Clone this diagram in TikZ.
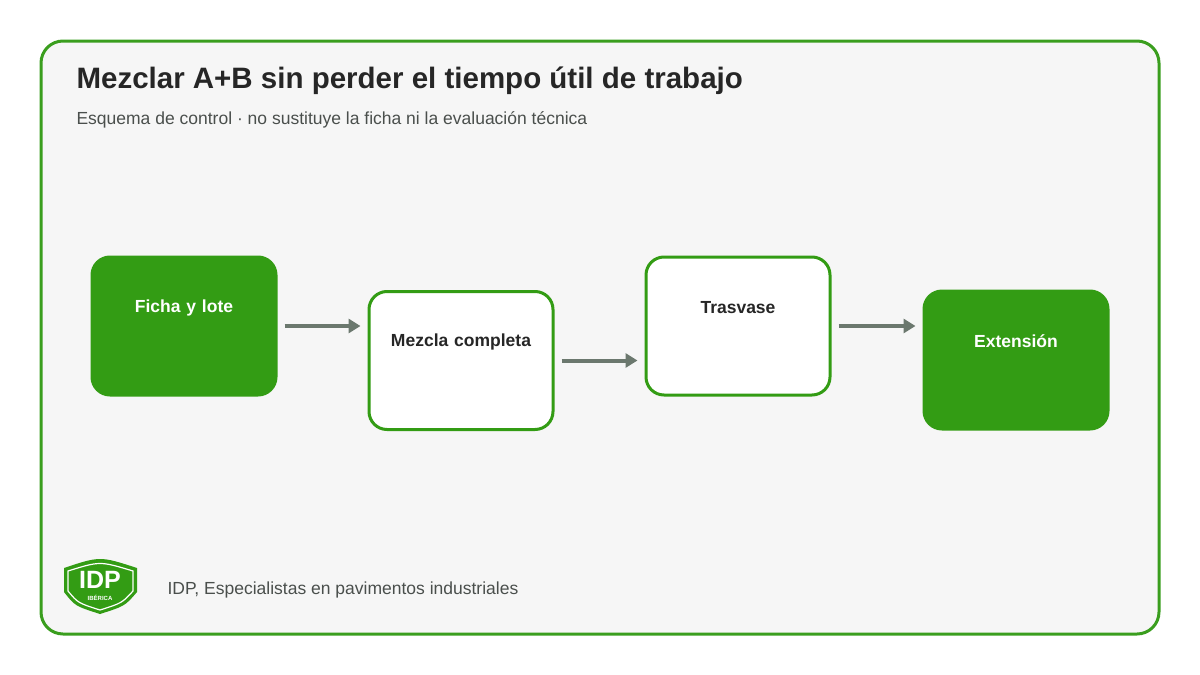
\documentclass[tikz,border=0pt]{standalone}
\usepackage{fontspec}
\setmainfont{Liberation Sans}
\usetikzlibrary{arrows.meta, positioning}
\definecolor{idpgreen}{HTML}{339C14}
\definecolor{framegreen}{HTML}{3A9E1E}
\definecolor{arrowgray}{HTML}{6B786E}
\definecolor{textgray}{HTML}{4A4F4C}
\newcommand{\gap}{\\\rule{0pt}{36pt}}
\tikzset{%
    stage/.style = {rectangle, rounded corners=18pt, line width=3pt,
        minimum width=184pt, minimum height=138pt, text width=170pt,
        align=center, font=\fontsize{17.5}{20}\selectfont\bfseries},
    full/.style = {stage, draw=idpgreen, fill=idpgreen, text=white},
    empty/.style = {stage, draw=idpgreen, fill=white, text=black!85},
    flow/.style = {draw=arrowgray, line width=4pt,
        -{Triangle[length=12pt, width=14pt]}, shorten >=7pt, shorten <=7pt},
}
\begin{document}
\begin{tikzpicture}[x=1pt, y=-1pt]
    \useasboundingbox (0,0) rectangle (1200,675);
    \draw [framegreen, line width=3pt, fill=black!3.5, rounded corners=22pt]
        (41,41) rectangle (1159,634);
    \node [anchor=base west, font=\fontsize{29.5}{32}\selectfont\bfseries, text=black!85]
        (title) at (73,88) {Mezclar A+B sin perder el tiempo útil de trabajo};
    \node [anchor=base west, font=\fontsize{17.5}{20}\selectfont, text=textgray]
        (sub) at (73,124) {Esquema de control · no sustituye la ficha ni la evaluación técnica};
    % pasos
    \node [full] (ficha) at (184,326) {Ficha y lote\gap};
    \node [empty] (mezcla) at (461,360.5) {Mezcla completa\gap};
    \node [empty] (trasvase) at (738,326) {Trasvase\gap};
    \node [full] (ext) at (1016,360) {Extensión\gap};
    \path [flow] (ficha.east) -- (ficha.east -| mezcla.west);
    \path [flow] (mezcla.east) -- (mezcla.east -| trasvase.west);
    \path [flow] (trasvase.east) -- (trasvase.east -| ext.west);
    % logo
    \fill [idpgreen] (64,568) .. controls (100,556) .. (137,568)
        -- (137,592) .. controls (125,606) .. (100,614) .. controls (75,606) .. (64,592) -- cycle;
    \draw [white, line width=1.2pt] (68,571) .. controls (100,561) .. (133,571)
        -- (133,591) .. controls (122,603) .. (100,610) .. controls (78,603) .. (68,591) -- cycle;
    \node [font=\fontsize{25}{25}\selectfont\bfseries, text=white] (idp) at (100,580) {IDP};
    \node [font=\fontsize{6}{6}\selectfont\bfseries, text=white] (iberica) at (100,598) {IBÉRICA};
    \node [anchor=base west, font=\fontsize{17.5}{20}\selectfont, text=textgray]
        (foot) at (164,594) {IDP, Especialistas en pavimentos industriales};
\end{tikzpicture}
\end{document}
